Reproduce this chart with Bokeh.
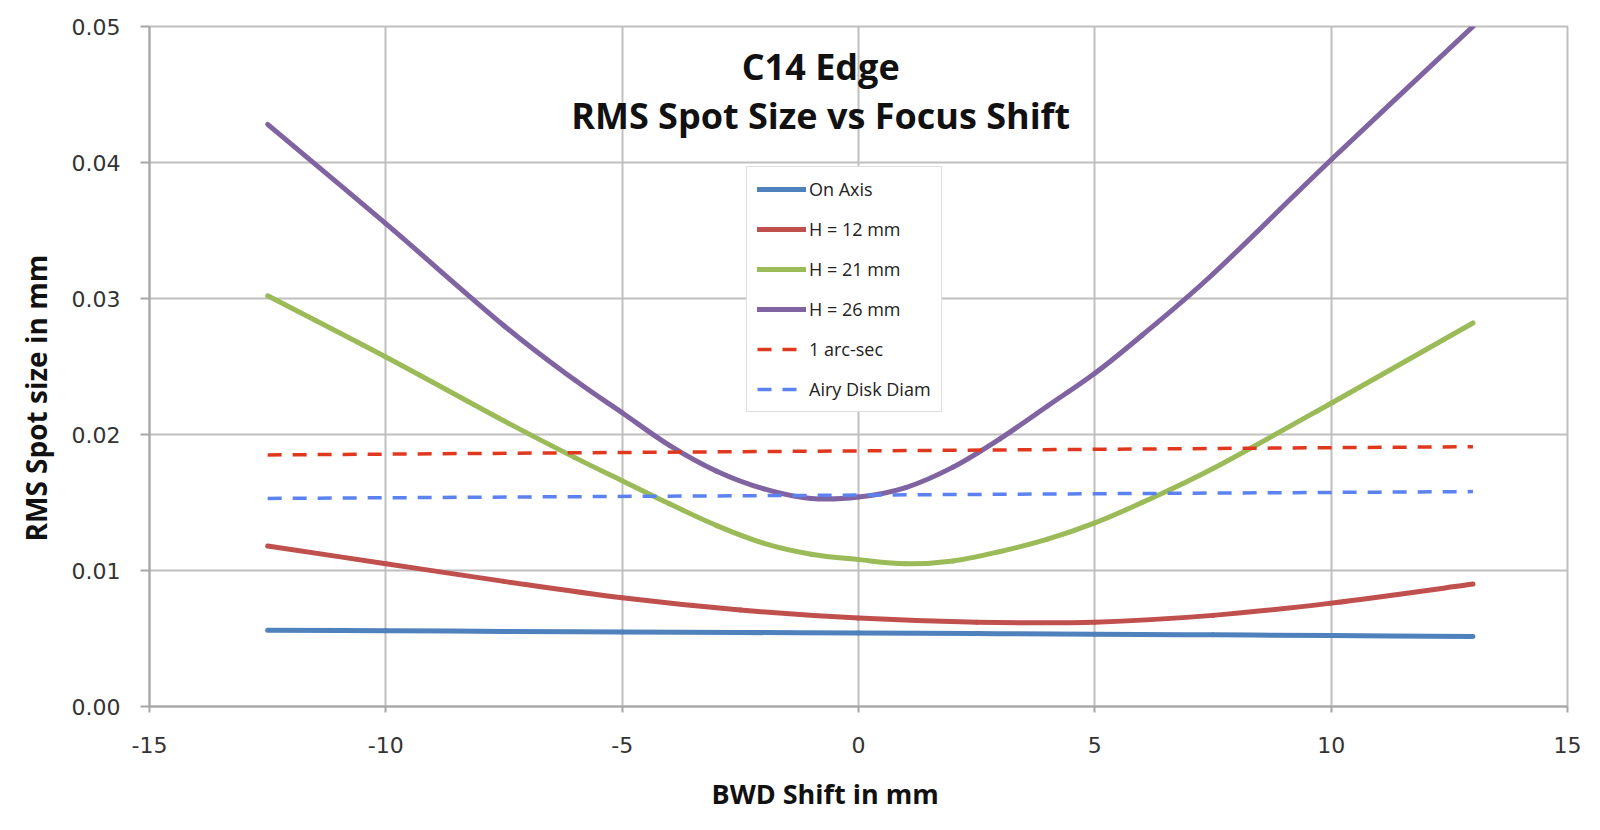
from bokeh.plotting import figure
from bokeh.models import (FixedTicker, PrintfTickFormatter, Legend, LegendItem, Label,
                          ColumnDataSource, Title)
from bokeh.embed import file_html
from bokeh.resources import INLINE

# ---- data ----
shift_fine = [-12.5, -10, -7.5, -6, -5, -4, -3, -2, -1, 0, 1, 2, 3, 4, 5, 6, 7.5, 10, 13]
h26 = [0.0428, 0.0355, 0.0280, 0.0240, 0.0216, 0.0192, 0.0173, 0.0160, 0.0153, 0.0154,
       0.0161, 0.0176, 0.0197, 0.0221, 0.0245, 0.0273, 0.0318, 0.0402, 0.0500]
h21 = [0.0302, 0.0257, 0.0210, 0.0183, 0.0166, 0.0149, 0.0133, 0.0120, 0.0112, 0.0108,
       0.0105, 0.0107, 0.0114, 0.0123, 0.0135, 0.0150, 0.0175, 0.0223, 0.0282]

shift_coarse = [-12.5, -10, -7.5, -5, -2.5, 0, 2.5, 5, 7.5, 10, 13]
h12 = [0.0118, 0.0105, 0.0092, 0.0080, 0.0071, 0.0065, 0.0062, 0.0062, 0.0067, 0.0076, 0.0090]
on_axis = [0.00560, 0.00557, 0.00552, 0.00548, 0.00544, 0.00540, 0.00536, 0.00532,
           0.00527, 0.00522, 0.00515]

arc_sec_x = [-12.5, 13]
arc_sec = [0.0185, 0.0191]
airy_x = [-12.5, 13]
airy = [0.0153, 0.0158]

x_ticks = [-15, -10, -5, 0, 5, 10, 15]
x_tick_labels = ["-15", "-10", "-5", "0", "5", "10", "15"]
y_ticks = [0.00, 0.01, 0.02, 0.03, 0.04, 0.05]

title_lines = ["C14 Edge", "RMS Spot Size vs Focus Shift"]
x_label = "BWD Shift in mm"
y_label = "RMS Spot size in mm"

GRID = "#BFBFBF"


def smooth_source(xs, ys):
    """Bezier segments through the data points (like a spreadsheet 'smoothed line')."""
    n = len(xs)
    d = dict(x0=[], y0=[], x1=[], y1=[], cx0=[], cy0=[], cx1=[], cy1=[])
    for i in range(n - 1):
        xm, ym = (xs[i - 1], ys[i - 1]) if i > 0 else (xs[i], ys[i])
        xp, yp = (xs[i + 2], ys[i + 2]) if i + 2 < n else (xs[i + 1], ys[i + 1])
        d["x0"].append(xs[i]); d["y0"].append(ys[i])
        d["x1"].append(xs[i + 1]); d["y1"].append(ys[i + 1])
        d["cx0"].append(xs[i] + (xs[i + 1] - xm) / 6.0)
        d["cy0"].append(ys[i] + (ys[i + 1] - ym) / 6.0)
        d["cx1"].append(xs[i + 1] - (xp - xs[i]) / 6.0)
        d["cy1"].append(ys[i + 1] - (yp - ys[i]) / 6.0)
    return ColumnDataSource(d)


p = figure(width=1584, height=830, output_backend="svg", toolbar_location=None,
           x_range=(-15, 15), y_range=(0, 0.05),
           min_border_left=149, min_border_right=17, min_border_top=26, min_border_bottom=124)
p.background_fill_color = "white"
p.border_fill_color = "white"
p.outline_line_color = GRID
p.outline_line_width = 2

p.xaxis.ticker = FixedTicker(ticks=x_ticks)
p.xaxis.major_label_overrides = {t: s for t, s in zip(x_ticks, x_tick_labels)}
p.yaxis.ticker = FixedTicker(ticks=y_ticks)
p.yaxis.formatter = PrintfTickFormatter(format="%.2f")

for ax in (p.xaxis[0], p.yaxis[0]):
    ax.axis_line_color = "#A6A6A6"
    ax.axis_line_width = 2
    ax.major_tick_line_color = "#A6A6A6"
    ax.major_tick_line_width = 2
    ax.major_tick_in = 0
    ax.minor_tick_line_color = None
    ax.major_label_text_font = "DejaVu Sans"
    ax.major_label_text_font_size = "22px"
    ax.major_label_text_color = "#333333"

p.yaxis.major_tick_out = 9
p.yaxis.major_label_standoff = 20
p.xaxis.major_tick_out = 6
p.xaxis.major_label_standoff = 24

# axis titles (placed off-centre like the reference)
p.add_layout(Title(text=x_label, align="left", offset=562, standoff=35,
                   text_font="Open Sans", text_font_style="bold", text_font_size="27px",
                   text_color="#111111"), "below")
p.add_layout(Title(text=y_label, align="left", offset=165, standoff=27,
                   text_font="Open Sans", text_font_style="bold", text_font_size="28px",
                   text_color="#111111"), "left")

p.xgrid.grid_line_color = GRID
p.ygrid.grid_line_color = GRID
p.xgrid.grid_line_width = 2
p.ygrid.grid_line_width = 2

bez_kw = dict(x0="x0", y0="y0", x1="x1", y1="y1", cx0="cx0", cy0="cy0", cx1="cx1", cy1="cy1",
              line_width=5, line_cap="round")
r1 = p.bezier(source=smooth_source(shift_coarse, on_axis), line_color="#4F81BD", **bez_kw)
r2 = p.bezier(source=smooth_source(shift_coarse, h12), line_color="#C0504D", **bez_kw)
r3 = p.bezier(source=smooth_source(shift_fine, h21), line_color="#9BBB59", **bez_kw)
r4 = p.bezier(source=smooth_source(shift_fine, h26), line_color="#8064A2", **bez_kw)
r5 = p.line(arc_sec_x, arc_sec, line_color="#E0381F", line_width=3.5, line_dash="14 11")
r6 = p.line(airy_x, airy, line_color="#5B82F0", line_width=3.5, line_dash="14 11")

legend = Legend(items=[
    LegendItem(label="On Axis", renderers=[r1], index=0),
    LegendItem(label="H = 12 mm", renderers=[r2], index=0),
    LegendItem(label="H = 21 mm", renderers=[r3], index=0),
    LegendItem(label="H = 26 mm", renderers=[r4], index=0),
    LegendItem(label="1 arc-sec", renderers=[r5]),
    LegendItem(label="Airy Disk Diam", renderers=[r6]),
], location=(597, 294))
legend.glyph_width = 49
legend.glyph_height = 20
legend.label_height = 20
legend.spacing = 16
legend.padding = 10
legend.margin = 0
legend.label_standoff = 3
legend.label_text_font = "Open Sans"
legend.label_text_font_size = "18px"
legend.label_text_color = "#222222"
legend.border_line_color = GRID
legend.border_line_width = 1.5
legend.background_fill_color = "white"
legend.background_fill_alpha = 1.0
p.add_layout(legend, "center")

p.add_layout(Label(x=-0.8, y=0.04706, text=title_lines[0], text_align="center",
                   text_baseline="middle", text_font="Open Sans", text_font_style="bold",
                   text_font_size="36px", text_color="#111111"))
p.add_layout(Label(x=-0.8, y=0.04346, text=title_lines[1], text_align="center",
                   text_baseline="middle", text_font="Open Sans", text_font_style="bold",
                   text_font_size="36px", text_color="#111111"))

open("out.html", "w").write(file_html(p, INLINE))
